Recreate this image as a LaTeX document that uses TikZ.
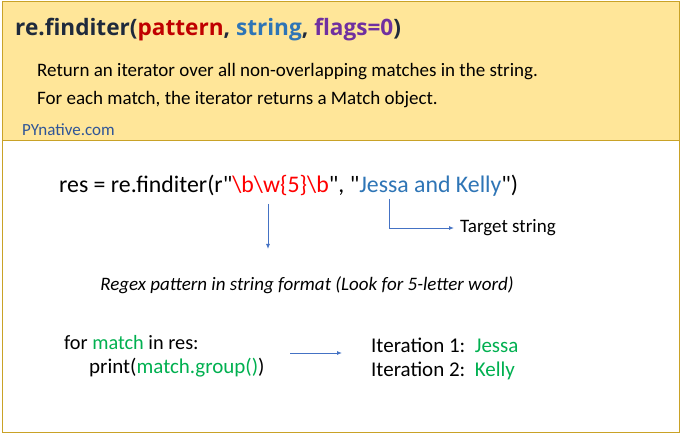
\documentclass[tikz,border=0pt]{standalone}
\usepackage{fontspec}
\setmainfont{Carlito}
\newfontfamily\titlefont{Open Sans}
\usetikzlibrary{arrows.meta}
\definecolor{hdrfill}{HTML}{FFE699}
\definecolor{frame}{HTML}{C9A227}
\definecolor{navy}{HTML}{1F2A3C}
\definecolor{pred}{HTML}{C00000}
\definecolor{sblue}{HTML}{2E75B6}
\definecolor{fpurple}{HTML}{7030A0}
\definecolor{rxred}{HTML}{FF0000}
\definecolor{mgreen}{HTML}{00B050}
\definecolor{arrblue}{HTML}{4472C4}
\definecolor{site}{HTML}{2F5597}
\begin{document}
\begin{tikzpicture}[x=1pt,y=-1pt,>={Latex[length=5pt,width=4pt]},
  txt/.style={anchor=west,inner sep=0pt},
  conn/.style={->,draw=arrblue,line width=0.9pt}]
            \useasboundingbox (0,0) rectangle (682,435);
            \fill[white] (0,0) rectangle (682,435);
            \fill[hdrfill] (2,2) rectangle (679,141);
            \draw[frame,line width=1pt] (2,2) rectangle (679,432) (2,141)--(679,141);
            \node[txt,font=\titlefont\fontsize{22.6}{26}\selectfont\bfseries,text=navy] (title) at (15,30)
                {re.finditer(\textcolor{pred}{pattern}, \textcolor{sblue}{string}, \textcolor{fpurple}{flags=0})};
            \node[txt,font=\fontsize{19}{22}\selectfont] (desc1) at (37,72) {Return an iterator over all non-overlapping matches in the string.};
            \node[txt,font=\fontsize{19}{22}\selectfont] (desc2) at (37,100) {For each match, the iterator returns a Match object.};
            \node[txt,font=\fontsize{17}{20}\selectfont,text=site] (site) at (22,130) {PYnative.com};
            \node[txt,font=\fontsize{23.8}{28}\selectfont] (code) at (59,186)
                {res = re.finditer(r\textquotedbl\textcolor{rxred}{\textbackslash b\textbackslash w\{5\}\textbackslash b}\textquotedbl, \textquotedbl\textcolor{sblue}{Jessa and Kelly}\textquotedbl)};
            \coordinate (pat) at (268,204);
            \coordinate (patend) at (268,249);
            \coordinate (tgt) at (389,199);
            \node[txt,font=\fontsize{19}{22}\selectfont] (target) at (460,228) {Target string};
            \node[font=\fontsize{19}{22}\selectfont\itshape,inner sep=0pt] (regex) at (307,285) {Regex pattern in string format (Look for 5-letter word)};
            \draw[conn] (pat)--(patend);
            \draw[conn] (tgt)|-([xshift=-6pt]target.west);
            \node[txt,font=\fontsize{20.3}{24}\selectfont] (loop1) at (64,343) {for \textcolor{mgreen}{match} in res:};
            \node[txt,font=\fontsize{21}{24}\selectfont] (loop2) at (89,368) {print(\textcolor{mgreen}{match.group()})};
            \node[txt,font=\fontsize{21}{24}\selectfont] (it1) at (371,345) {Iteration 1:\ \ \textcolor{mgreen}{Jessa}};
            \node[txt,font=\fontsize{21}{24}\selectfont] (it2) at (371,371) {Iteration 2:\ \ \textcolor{mgreen}{Kelly}};
            \coordinate (runL) at (290,353);
            \coordinate (runR) at (342,353);
            \draw[conn] (runL)--(runR);
        \end{tikzpicture}
\end{document}
